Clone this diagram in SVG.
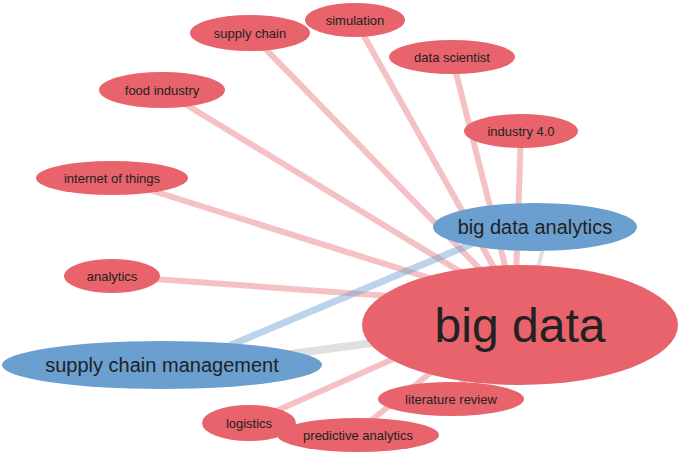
<svg xmlns="http://www.w3.org/2000/svg" width="685" height="455" viewBox="0 0 685 455">
<style>
.r{fill:#e8636b}.b{fill:#6a9fd0}
.e{stroke:#e8636b;stroke-opacity:.4;stroke-width:6;fill:none}
text{font-family:"Liberation Sans",Arial,sans-serif;fill:#222;text-anchor:middle;dominant-baseline:central}
.s{font-size:13px}.m{font-size:20px}
</style>
<rect width="685" height="455" fill="#fff"/>
<g id="connectors">
<line class="e" x1="250" y1="33" x2="515" y2="305"/>
<line class="e" x1="355" y1="20" x2="515" y2="305"/>
<line class="e" x1="452" y1="57" x2="515" y2="305"/>
<line class="e" x1="162" y1="90" x2="515" y2="305"/>
<line class="e" x1="521" y1="131" x2="515" y2="305"/>
<line class="e" x1="112" y1="178" x2="515" y2="305"/>
<line class="e" x1="112" y1="276" x2="515" y2="305"/>
<line class="e" x1="451" y1="399" x2="515" y2="305"/>
<line class="e" x1="249" y1="423" x2="515" y2="305"/>
<line class="e" x1="353" y1="435" x2="515" y2="305"/>
<line x1="200" y1="358" x2="500" y2="232" stroke="#6a9fd0" stroke-opacity=".45" stroke-width="7"/>
<line x1="230" y1="362" x2="470" y2="330" stroke="#999" stroke-opacity=".3" stroke-width="8"/>
<line x1="545" y1="240" x2="530" y2="300" stroke="#999" stroke-opacity=".3" stroke-width="4"/>
</g>
<g id="big-data"><ellipse class="r" cx="520" cy="325" rx="158" ry="60"/><text x="520" y="325" font-size="48">big data</text></g>
<g id="big-data-analytics"><ellipse class="b" cx="535" cy="227" rx="102" ry="24"/><text class="m" x="535" y="227">big data analytics</text></g>
<g id="supply-chain-management"><ellipse class="b" cx="162" cy="365" rx="160" ry="24"/><text class="m" x="162" y="365">supply chain management</text></g>
<g id="supply-chain"><ellipse class="r" cx="250" cy="33" rx="60" ry="18"/><text class="s" x="250" y="33">supply chain</text></g>
<g id="simulation"><ellipse class="r" cx="355" cy="20" rx="50" ry="17"/><text class="s" x="355" y="20">simulation</text></g>
<g id="data-scientist"><ellipse class="r" cx="452" cy="57" rx="63" ry="17"/><text class="s" x="452" y="57">data scientist</text></g>
<g id="food-industry"><ellipse class="r" cx="162" cy="90" rx="63" ry="18"/><text class="s" x="162" y="90">food industry</text></g>
<g id="industry-4"><ellipse class="r" cx="521" cy="131" rx="57" ry="17"/><text class="s" x="521" y="131">industry 4.0</text></g>
<g id="internet-of-things"><ellipse class="r" cx="112" cy="178" rx="76" ry="17"/><text class="s" x="112" y="178">internet of things</text></g>
<g id="analytics"><ellipse class="r" cx="112" cy="276" rx="48" ry="17"/><text class="s" x="112" y="276">analytics</text></g>
<g id="literature-review"><ellipse class="r" cx="451" cy="399" rx="73" ry="17"/><text class="s" x="451" y="399">literature review</text></g>
<g id="logistics"><ellipse class="r" cx="249" cy="423" rx="47" ry="18"/><text class="s" x="249" y="423">logistics</text></g>
<g id="predictive-analytics"><ellipse class="r" cx="358" cy="435" rx="81" ry="17"/><text class="s" x="358" y="435">predictive analytics</text></g>
</svg>
